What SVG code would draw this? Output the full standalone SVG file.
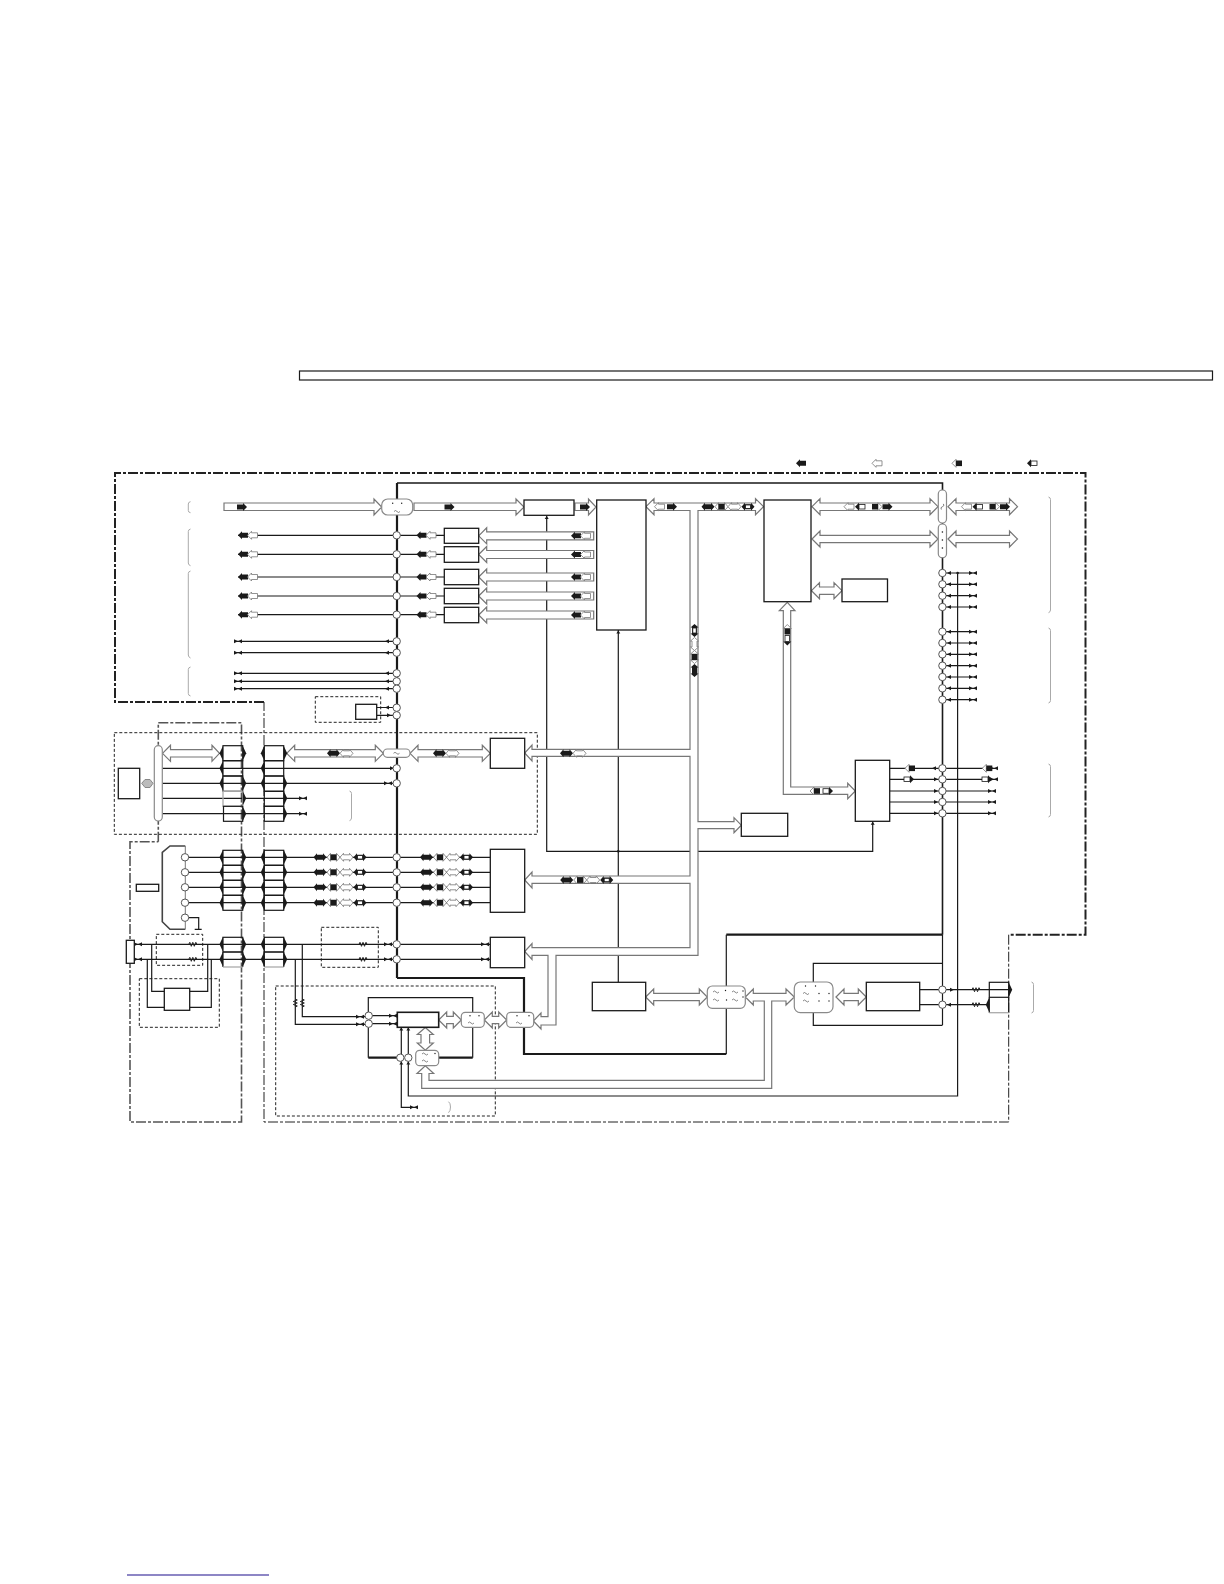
<svg xmlns="http://www.w3.org/2000/svg" xmlns:xlink="http://www.w3.org/1999/xlink" width="1224" height="1584" viewBox="0 0 1224 1584">
<style>
.bg{fill:#fff}
.l{fill:none;stroke:#1a1a1a;stroke-width:1.2}
.t{fill:none;stroke:#1a1a1a;stroke-width:2.2}
.n{fill:#fff;stroke:#1a1a1a;stroke-width:1.3}
.s{fill:none;stroke:#1a1a1a;stroke-width:1.2}
.sg{fill:none;stroke:#aaa;stroke-width:1.3}
.ar{fill:#fff;stroke:#777;stroke-width:1.2}
.p{fill:#fff;stroke:#8a8a8a;stroke-width:1.2}
.c{fill:#fff;stroke:#555;stroke-width:1}
.b{fill:none;stroke:#aaa;stroke-width:1}
.dd{fill:none;stroke:#222;stroke-width:2;stroke-dasharray:10 2 3 2}
.dt{fill:none;stroke:#222;stroke-width:1;stroke-dasharray:10 2 3 2}
.dg{fill:none;stroke:#555;stroke-width:1.6;stroke-dasharray:10 2 3 2}
.d{fill:none;stroke:#222;stroke-width:1;stroke-dasharray:3 2}
.k{fill:#1a1a1a}
.h{fill:#fff;stroke:#777;stroke-width:.8}
.hk{fill:#fff;stroke:#1a1a1a;stroke-width:.8}
.tl{fill:none;stroke:#555;stroke-width:.7}
</style>
<defs>
<path id="bl" class="k" d="M-5,0 L-1,-4 V-2.5 H5 V2.5 H-1 V4Z"/>
<path id="br" class="k" d="M5,0 L1,-4 V-2.5 H-5 V2.5 H1 V4Z"/>
<path id="hl" class="h" d="M-5,0 L-1,-4 V-2.5 H5 V2.5 H-1 V4Z"/>
<path id="hr" class="h" d="M5,0 L1,-4 V-2.5 H-5 V2.5 H1 V4Z"/>
<path id="bd" class="k" d="M-6.5,0 L-3,-4 V-2.5 H3 V-4 L6.5,0 L3,4 V2.5 H-3 V4Z"/>
<path id="hd" class="h" d="M-6.5,0 L-3,-4 V-2.5 H3 V-4 L6.5,0 L3,4 V2.5 H-3 V4Z"/>
<g id="sq"><use href="#hd"/><rect class="k" x="-3.2" y="-2.8" width="6.4" height="5.6"/></g>
<g id="hb"><use href="#bd"/><rect class="hk" x="-2.5" y="-1.7" width="5" height="3.4"/></g>
<g id="ls"><path class="h" d="M-5,0 L-1,-4 V4Z"/><rect class="k" x="-1" y="-2.8" width="6" height="5.6"/></g>
<g id="lh"><path class="k" d="M-5,0 L-1,-4 V4Z"/><rect class="hk" x="-1" y="-2.3" width="6" height="4.6"/></g>
<g id="rs"><path class="h" d="M5,0 L1,-4 V4Z"/><rect class="k" x="-5" y="-2.8" width="6" height="5.6"/></g>
<g id="rh"><path class="k" d="M5,0 L1,-4 V4Z"/><rect class="hk" x="-5" y="-2.3" width="6" height="4.6"/></g>
<g id="m4"><use href="#bd" x="-20"/><use href="#sq" x="-6.5"/><use href="#hd" x="6.5"/><use href="#hb" x="20"/></g>
<g id="m5"><use href="#hl" x="-19"/><use href="#lh" x="-8"/><use href="#rs" x="9"/><use href="#br" x="19.5"/></g>
<g id="m2"><use href="#bd"/><use href="#hd" x="13"/></g>
<g id="bh"><use href="#bl"/><use href="#hl" x="9.5"/></g>
<path id="tl" class="k" d="M-3,0 L1,-2 V2Z"/>
<path id="tr" class="k" d="M3,0 L-1,-2 V2Z"/>
<path id="bf" class="k" d="M-4,-2 L0,0 L-4,2Z M4,-2 L0,0 L4,2Z"/>
<path id="tpr" class="k" d="M0,-7.5 L3.5,0 L0,7.5Z"/>
<path id="tpl" class="k" d="M0,-7.5 L-3.5,0 L0,7.5Z"/>
<path id="res" class="tl" d="M-4,0 L-3,-2 L-1.5,2 L0,-2 L1.5,2 L3,-2 L4,0" style="stroke:#222;stroke-width:1"/>
<path id="til" class="tl" d="M-3,0 q1.5,-2 3,0 t3,0"/>
</defs>

<rect class="bg" width="1224" height="1584"/>
<rect id="top-bar" x="299.5" y="371" width="913" height="9" fill="none" stroke="#1a1a1a" stroke-width="1.2"/>
<line id="bottom-rule" x1="127" y1="1575" x2="269" y2="1575" stroke="#1c0f8c" stroke-width="1.2"/>

<g id="legend">
<use href="#bl" x="801" y="463.3"/><use href="#hl" x="877" y="463.3"/><use href="#ls" x="957" y="463.3"/><use href="#lh" x="1032" y="463.3"/>
</g>

<g id="frames">
<path class="dd" d="M264,702 H115 V473 H1085.5 V934.7 H1008.7"/>
<path class="dt" d="M1008.7,934.7 V1122 H264 V702"/>
<path class="dg" d="M158.3,841.7 V722.7 H241.5 V1122 H130 V841.7 H158.3"/>
<rect class="d" x="114.3" y="732.7" width="423" height="101.6"/>
<rect class="d" x="315.3" y="696.7" width="65.4" height="25.6"/>
<rect class="d" x="156.3" y="934.3" width="46.4" height="31"/>
<rect class="d" x="321.3" y="927.3" width="57" height="40"/>
<rect class="d" x="139.3" y="978.7" width="80" height="48.6"/>
<rect class="d" x="275.7" y="986" width="219.6" height="130"/>
</g>

<g id="connectors">
<path class="t" d="M397,978 V483"/>
<path class="l" style="stroke-width:1.6" d="M397,483 H942.5 V934.7"/>
<path class="t" d="M942.5,934.7 H726.3"/>
<path class="t" d="M397,978 H524 V1054 H726.3"/>
<path class="l" d="M726.3,934.7 V1054"/>
<path class="l" d="M546.7,515.5 V851.3 H872.7 V821.3"/>
<path class="l" d="M618.3,630 V982.3"/>
<path class="l" d="M957.6,572 V1096 H408.3 V1027"/>
<path class="l" d="M401.3,1027 V1107.3 H416.7"/>
<path class="l" d="M942.5,934.7 V1025"/>
<circle class="k" cx="618.3" cy="851.3" r="1.3"/><circle class="k" cx="957.6" cy="573" r="1.3"/>

<path class="l" d="M238,535.3 H444.3 M238,554.3 H444.3 M238,577 H444.3 M238,596 H444.3 M238,614.7 H444.3"/>
<path class="l" d="M236,641.3 H393 M236,652.7 H393 M236,673.3 H393 M236,681.3 H393 M236,688.7 H393"/>
<path class="l" d="M376.7,707.5 H393 M376.7,715.3 H393"/>
<path class="l" d="M162.3,768.3 H393 M162.3,783.3 H393 M162.3,798.3 H306.7 M162.3,813.7 H306.7"/>
<path class="l" d="M188,857.3 H490.3 M188,872.3 H490.3 M188,887.3 H490.3 M188,902.7 H490.3"/>
<path class="l" d="M188.5,917.7 H198.7 V929.3 M194.7,929.3 H201.7"/>
<path class="l" d="M134.3,944.3 H490.3 M134.3,959.3 H490.3"/>
<path class="l" d="M151.7,944.3 V991.3 H164.3 M147.3,959.3 V1007.3 H164.3 M189.7,991.3 H207.7 V944.3 M189.7,1007.3 H211.3 V959.3"/>
<path class="l" d="M302.3,944.3 V1016.7 H365 M295.3,959.3 V1024.3 H365"/>
<path class="l" d="M372,1015.7 H397.3 M372,1023.7 H397.3"/>
<path class="l" d="M368.3,1012 V997.7 H472.7 V1012 M368.3,1027 V1057.7 M472.7,1027 V1057.7"/>
<path class="t" d="M368.3,1057.7 H397 M438.7,1057.7 H472.7"/>
<path class="l" d="M813.3,982 V963.3 H942.5 M813.3,1012.7 V1025.3 H942.5"/>
<path class="l" d="M919.7,989.7 H1008 M919.7,1004.7 H989.3"/>

<path class="l" d="M946,573 H977 M946,584.3 H977 M946,595.7 H977 M946,607 H977 M946,631.7 H977 M946,643 H977 M946,654.3 H977 M946,665.7 H977 M946,677 H977 M946,688.3 H977 M946,699.7 H977"/>
<path class="l" d="M889.7,768.3 H996 M889.7,779.3 H996 M889.7,791 H996 M889.7,802 H996 M889.7,813.3 H996"/>

<path class="ar" d="M224,503 H374 V499 L381.7,507 L374,515 V510.5 H224Z"/>
<path class="ar" d="M414,503 H516 V499 L524,507 L516,515 V510.5 H414Z"/>
<path class="ar" d="M575,503 H588.5 V499 L596,507 L588.5,515 V510.5 H575Z"/>
<path class="ar" d="M478.7,535.8 L486.7,527.8 V531.8 H593.7 V539.8 H486.7 V543.8Z"/>
<path class="ar" d="M478.7,554.5 L486.7,546.5 V550.5 H593.7 V558.5 H486.7 V562.5Z"/>
<path class="ar" d="M478.7,577 L486.7,569 V573 H593.7 V581 H486.7 V585Z"/>
<path class="ar" d="M478.7,596 L486.7,588 V592 H593.7 V600 H486.7 V604Z"/>
<path class="ar" d="M478.7,615 L486.7,607 V611 H593.7 V619 H486.7 V623Z"/>

<path class="ar" d="M646,506.7 L654,498.7 V503 H755.5 V498.7 L763.5,506.7 L755.5,514.7 V510.5 H698 V821.7 H734 V817.7 L741.3,825.2 L734,832.7 V828.7 H698 V955.3 H556 V1025 H541 V1029 L533.3,1021 L541,1013 V1016.7 H548 V955.3 H532 V959.5 L524.7,951.5 L532,943.5 V947.7 H690 V883.3 H532 V888 L524.7,880 L532,872 V876 H690 V756.3 H532 V761 L524.7,753 L532,745 V749.3 H690 V510.5 H654 V514.7Z"/>
<path class="ar" d="M745.3,997 L753.3,989 V993.3 H786 V989 L794.3,997 L786,1005 V1001 H771.7 V1088.3 H421.7 V1073.5 H417 L425.3,1065.7 L433.7,1073.5 H429 V1080.3 H764.3 V1001 H753.3 V1005Z"/>
<path class="ar" d="M787.3,602.3 L795,610.7 H790.7 V787 H847.7 V783.3 L855.3,791 L847.7,798.7 V794.3 H783.3 V610.7 H779.3Z"/>
<path class="ar" d="M812,506.7 L820,498.7 V503 H930 V498.7 L938,506.7 L930,514.7 V510.5 H820 V514.7Z"/>
<path class="ar" d="M812,539 L820,531 V535.3 H930 V531 L938,539 L930,547 V542.7 H820 V547Z"/>
<path class="ar" d="M948,506.7 L956,498.7 V503 H1009.5 V498.7 L1017.5,506.7 L1009.5,514.7 V510.5 H956 V514.7Z"/>
<path class="ar" d="M948,539 L956,531 V535.3 H1009.5 V531 L1017.5,539 L1009.5,547 V542.7 H956 V547Z"/>
<path class="ar" d="M811.5,590.7 L819.5,582.7 V587 H834 V582.7 L842,590.7 L834,598.7 V594.4 H819.5 V598.7Z"/>
<path class="ar" d="M162.5,753.3 L170.5,745.3 V749.6 H212 V745.3 L219.5,753.3 L212,761.3 V757 H170.5 V761.3Z"/>
<path class="ar" d="M286.7,753.3 L294.7,745.3 V749.6 H375.3 V745.3 L383.3,753.3 L375.3,761.3 V757 H294.7 V761.3Z"/>
<path class="ar" d="M410,753.3 L418,745.3 V749.6 H482.3 V745.3 L490.3,753.3 L482.3,761.3 V757 H418 V761.3Z"/>
<path class="ar" d="M645.7,997 L653.7,989 V993.3 H699.3 V989 L707.3,997 L699.3,1005 V1000.7 H653.7 V1005Z"/>
<path class="ar" d="M836,997 L844,989 V993.3 H858.3 V989 L866.3,997 L858.3,1005 V1000.7 H844 V1005Z"/>
<path class="ar" d="M438.7,1020 L446.7,1012 V1016.3 H453.3 V1012 L461.3,1020 L453.3,1028 V1023.7 H446.7 V1028Z"/>
<path class="ar" d="M484.3,1020 L492.3,1012 V1016.3 H498.7 V1012 L506.7,1020 L498.7,1028 V1023.7 H492.3 V1028Z"/>
<path class="ar" d="M425.3,1027.5 L433.3,1034.5 H429.6 V1043 H433.3 L425.3,1050.3 L417.3,1043 H421 V1034.5 H417.3Z"/>
</g>

<g id="marks">
<use href="#br" x="242" y="507"/><use href="#br" x="449.5" y="507"/><use href="#br" x="585" y="507"/>
<use href="#bh" x="243" y="535.3"/><use href="#bh" x="243" y="554.3"/><use href="#bh" x="243" y="577"/><use href="#bh" x="243" y="596"/><use href="#bh" x="243" y="614.7"/>
<use href="#bh" x="421.5" y="535.3"/><use href="#bh" x="421.5" y="554.3"/><use href="#bh" x="421.5" y="577"/><use href="#bh" x="421.5" y="596"/><use href="#bh" x="421.5" y="614.7"/>
<use href="#bh" x="576" y="535.8"/><use href="#bh" x="576" y="554.5"/><use href="#bh" x="576" y="577"/><use href="#bh" x="576" y="596"/><use href="#bh" x="576" y="615"/>
<use href="#hl" x="659.5" y="506.7"/><use href="#br" x="672" y="506.7"/>
<use href="#m4" x="728" y="506.7"/>
<use href="#m5" x="868" y="506.7"/><use href="#m5" x="985.5" y="506.7"/>
<g transform="translate(694.5,650.5) rotate(-90)"><use href="#m4"/></g>
<g transform="translate(787.3,629.5) rotate(90)"><use href="#ls"/></g>
<g transform="translate(787.3,640.5) rotate(90)"><use href="#rh"/></g>
<use href="#ls" x="815" y="791"/><use href="#rh" x="828" y="791"/>
<use href="#ls" x="910" y="768.3"/><use href="#rh" x="909" y="779.3"/>
<use href="#ls" x="987.3" y="768.3"/><use href="#rh" x="987" y="779.3"/>
<use href="#m2" x="333.5" y="753.3"/><use href="#m2" x="439.5" y="753.3"/><use href="#m2" x="566.5" y="753.3"/>
<use href="#m4" x="340" y="857.3"/><use href="#m4" x="340" y="872.3"/><use href="#m4" x="340" y="887.3"/><use href="#m4" x="340" y="902.7"/>
<use href="#m4" x="446.5" y="857.3"/><use href="#m4" x="446.5" y="872.3"/><use href="#m4" x="446.5" y="887.3"/><use href="#m4" x="446.5" y="902.7"/>
<use href="#m4" x="586.7" y="880"/>

<use href="#bf" x="238" y="641.3"/><use href="#bf" x="238" y="652.7"/><use href="#bf" x="238" y="673.3"/><use href="#bf" x="238" y="681.3"/><use href="#bf" x="238" y="688.7"/>
<use href="#tl" x="388" y="641.3"/><use href="#tl" x="388" y="652.7"/><use href="#tl" x="388" y="673.3"/><use href="#tl" x="388" y="681.3"/><use href="#tl" x="388" y="688.7"/>
<use href="#tl" x="388" y="707.5"/><use href="#tr" x="388" y="715.3"/>
<use href="#tr" x="391" y="768.3"/><use href="#bf" x="388" y="783.3"/>
<use href="#bf" x="303" y="798.3"/><use href="#bf" x="303" y="813.7"/>
<use href="#bf" x="138" y="944.3"/><use href="#bf" x="138" y="959.3"/><use href="#bf" x="388" y="944.3"/><use href="#bf" x="388" y="959.3"/><use href="#bf" x="485" y="944.3"/><use href="#bf" x="485" y="959.3"/>
<use href="#bf" x="360" y="1016.7"/><use href="#bf" x="360" y="1024.3"/><use href="#bf" x="393" y="1015.7"/><use href="#bf" x="393" y="1023.7"/><use href="#bf" x="414" y="1107.3"/>
<path class="k" d="M401.3,1027.5 l-2,3 h4Z M408.3,1027.5 l-2,3 h4Z M401.3,1061.5 l-2,3 h4Z M408.3,1061.5 l-2,3 h4Z M546.7,516 l-2,3 h4Z M618.3,630.5 l-2,3 h4Z M872.7,821.8 l-2,3 h4Z"/>

<g id="right-ticks">
<use href="#tl" x="950" y="573"/><use href="#bf" x="973" y="573"/><use href="#tl" x="950" y="584.3"/><use href="#bf" x="973" y="584.3"/><use href="#tl" x="950" y="595.7"/><use href="#bf" x="973" y="595.7"/><use href="#tl" x="950" y="607"/><use href="#bf" x="973" y="607"/>
<use href="#tl" x="950" y="631.7"/><use href="#bf" x="973" y="631.7"/><use href="#tl" x="950" y="643"/><use href="#bf" x="973" y="643"/><use href="#tl" x="950" y="654.3"/><use href="#bf" x="973" y="654.3"/><use href="#tl" x="950" y="665.7"/><use href="#bf" x="973" y="665.7"/><use href="#tl" x="950" y="677"/><use href="#bf" x="973" y="677"/><use href="#tl" x="950" y="688.3"/><use href="#bf" x="973" y="688.3"/><use href="#tl" x="950" y="699.7"/><use href="#bf" x="973" y="699.7"/>
<use href="#tl" x="935" y="768.3"/><use href="#tr" x="935" y="779.3"/><use href="#tr" x="935" y="791"/><use href="#tr" x="935" y="802"/><use href="#tr" x="935" y="813.3"/>
<use href="#bf" x="994" y="768.3"/><use href="#bf" x="994" y="779.3"/><use href="#bf" x="992" y="791"/><use href="#bf" x="992" y="802"/><use href="#bf" x="992" y="813.3"/>
<use href="#tr" x="951" y="989.7"/><use href="#tl" x="950" y="1004.7"/>
</g>
<use href="#res" x="192.8" y="944.3"/><use href="#res" x="192.8" y="959.3"/><use href="#res" x="363" y="944.3"/><use href="#res" x="363" y="959.3"/>
<use href="#res" x="976" y="989.7"/><use href="#res" x="976" y="1004.7"/>
<g transform="translate(295.3,1003) rotate(90)"><use href="#res"/></g><g transform="translate(302.3,1003) rotate(90)"><use href="#res"/></g>
</g>

<g id="braces">
<path class="b" d="M190.5,501.7 Q188.3,502 188.3,504 V510.5 Q188.3,512.5 190.5,512.7"/>
<path class="b" d="M190.5,529 Q188.3,529.5 188.3,531.5 V563 Q188.3,565 190.5,565.7"/>
<path class="b" d="M190.5,571 Q188.3,571.5 188.3,573.5 V655 Q188.3,657 190.5,658"/>
<path class="b" d="M190.5,667 Q188.3,667.5 188.3,669.5 V693.5 Q188.3,695.5 190.5,696"/>
<path class="b" d="M1048.5,497 Q1050.5,497.5 1050.5,499.5 V610 Q1050.5,612 1048.5,612.7"/>
<path class="b" d="M1048.5,628 Q1050.5,628.5 1050.5,630.5 V700.5 Q1050.5,702.5 1048.5,703"/>
<path class="b" d="M1048.5,764 Q1050.5,764.5 1050.5,766.5 V814.5 Q1050.5,816.5 1048.5,817"/>
<path class="b" d="M1031.5,982 Q1033.5,982.5 1033.5,984.5 V1010.5 Q1033.5,1012.5 1031.5,1013"/>
<path class="b" d="M349.5,791 Q351.5,791.5 351.5,793.5 V818 Q351.5,820 349.5,820.7"/>
<path class="b" d="M448.5,1101.7 Q450.5,1103 450.5,1107 Q450.5,1111 448.5,1112.7"/>
</g>

<g id="box-a"><rect class="n" x="596.7" y="500" width="49.3" height="130"/></g>
<g id="box-b"><rect class="n" x="764" y="500" width="47" height="101.7"/></g>
<g id="box-c"><rect class="n" x="842" y="579" width="45.5" height="22.7"/></g>
<g id="box-d"><rect class="n" x="741.3" y="813.3" width="46.4" height="23"/></g>
<g id="box-e"><rect class="n" x="524" y="500" width="50" height="15.3"/></g>
<g id="box-f1"><rect class="n" x="444.3" y="528.3" width="34.4" height="15"/></g>
<g id="box-f2"><rect class="n" x="444.3" y="546.7" width="34.4" height="15.6"/></g>
<g id="box-f3"><rect class="n" x="444.3" y="569.3" width="34.4" height="15.4"/></g>
<g id="box-f4"><rect class="n" x="444.3" y="588.3" width="34.4" height="15.4"/></g>
<g id="box-f5"><rect class="n" x="444.3" y="607.3" width="34.4" height="15.4"/></g>
<g id="box-g"><rect class="n" x="355.7" y="704.3" width="21" height="15"/></g>
<g id="box-h"><rect class="n" x="490.3" y="738.3" width="34.4" height="30"/></g>
<g id="box-i"><rect class="n" x="490.3" y="849.3" width="34.4" height="63"/></g>
<g id="box-j"><rect class="n" x="490.3" y="937.3" width="34.4" height="30.4"/></g>
<g id="box-k"><rect class="n" x="855.3" y="760.3" width="34.4" height="61"/></g>
<g id="box-l"><rect class="n" x="592.3" y="982.3" width="53.4" height="28.4"/></g>
<g id="box-m"><rect class="n" x="866.3" y="982.3" width="53.4" height="28.4"/></g>
<g id="box-n"><rect class="n" x="397.3" y="1012.3" width="41.4" height="15" style="stroke-width:1.6"/></g>
<g id="box-o"><rect class="n" x="118.3" y="768.3" width="21.4" height="30.4"/></g>
<g id="box-p"><rect class="n" x="136.3" y="884.3" width="22.4" height="7"/></g>
<g id="box-q"><rect class="n" x="126.3" y="940.3" width="8" height="23"/></g>
<g id="box-r"><rect class="n" x="164.3" y="988.3" width="25.4" height="22"/></g>

<g id="gray-link"><path d="M141.7,783.3 L145,779.5 H150 L153,783.3 L150,787.5 H145Z" fill="#bbb" stroke="#888" stroke-width="1"/></g>

<g id="gate"><path d="M185.3,846 H170 L162.3,852.3 V921.7 L170,929.3 H185.3" fill="none" stroke="#444" stroke-width="1.6"/><path d="M185.3,846 V929.3" fill="none" stroke="#777" stroke-width="1"/></g>

<g id="pills">
<g id="pill-1"><rect class="p" x="381.7" y="499" width="31" height="16" rx="6"/><circle class="k" cx="392.7" cy="503.3" r=".7"/><circle class="k" cx="401.7" cy="503.3" r=".7"/><use href="#til" x="397" y="511.5"/></g>
<g id="pill-2"><rect class="p" x="154.3" y="745.7" width="8" height="75.3" rx="4"/></g>
<g id="pill-3"><rect class="p" x="383.3" y="749" width="26.7" height="8.3" rx="4"/><use href="#til" x="396.5" y="753.3"/></g>
<g id="pill-x"><rect class="p" x="938.3" y="490" width="8.2" height="33" rx="4"/><use href="#til" transform="translate(942.4,506.7) rotate(-70)"/></g>
<g id="pill-y"><rect class="p" x="938.3" y="524" width="8.2" height="33.7" rx="4"/><circle class="k" cx="942.4" cy="532" r=".8"/><circle class="k" cx="942.4" cy="540" r=".8"/><circle class="k" cx="942.4" cy="548" r=".8"/></g>
<g id="pill-4"><rect class="p" x="707.3" y="986" width="38" height="22.3" rx="5"/><use href="#til" x="716" y="992"/><use href="#til" x="735" y="992"/><use href="#til" x="716" y="1000"/><use href="#til" x="735" y="1000"/><circle class="k" cx="725.5" cy="990.5" r=".7"/><circle class="k" cx="726.5" cy="1000" r=".7"/><circle class="k" cx="743" cy="991" r=".7"/><circle class="k" cx="743" cy="997" r=".7"/></g>
<g id="pill-5"><rect class="p" x="794.3" y="982" width="38.7" height="30.7" rx="6"/><circle class="k" cx="805.5" cy="986" r=".7"/><circle class="k" cx="815.5" cy="986" r=".7"/><use href="#til" x="806" y="993.5"/><circle class="k" cx="819" cy="993.5" r=".7"/><circle class="k" cx="829" cy="993.5" r=".7"/><use href="#til" x="806" y="1001"/><circle class="k" cx="819" cy="1001" r=".7"/><circle class="k" cx="829" cy="1001" r=".7"/></g>
<g id="pill-6"><rect class="p" x="461.3" y="1012.3" width="23" height="15" rx="4"/><circle class="k" cx="470" cy="1015.8" r=".7"/><circle class="k" cx="479" cy="1015.8" r=".7"/><use href="#til" x="471" y="1023"/></g>
<g id="pill-7"><rect class="p" x="506.7" y="1012.3" width="27" height="15" rx="4"/><circle class="k" cx="517" cy="1015.8" r=".7"/><circle class="k" cx="529" cy="1015.8" r=".7"/><use href="#til" x="519" y="1023"/></g>
<g id="pill-8"><rect class="p" x="415.7" y="1050.3" width="23" height="15.4" rx="4"/><circle class="k" cx="435" cy="1053.5" r=".7"/><use href="#til" x="425" y="1054"/><use href="#til" x="425" y="1061"/></g>
</g>

<g id="stack-1">
<rect class="s" x="223" y="745.7" width="19.7" height="15"/><rect class="s" x="223" y="760.7" width="19.7" height="15.3"/><rect class="s" x="223" y="776" width="19.7" height="15.3"/><rect class="sg" x="223" y="791.3" width="19.7" height="15"/><rect class="s" x="223.5" y="806.3" width="19.2" height="15"/>
<use href="#tpl" x="223" y="753.3"/><use href="#tpr" x="242.7" y="753.3"/><use href="#tpl" x="223" y="768.3"/><use href="#tpl" x="223" y="783.3"/><use href="#tpr" x="242.7" y="783.3"/><use href="#tpr" x="242.7" y="798.3"/><use href="#tpr" x="242.7" y="813.7"/>
</g>
<g id="stack-2">
<rect class="s" x="264.3" y="745.7" width="19.4" height="15"/><rect class="s" x="264.3" y="760.7" width="19.4" height="15.3"/><rect class="s" x="264.3" y="776" width="19.4" height="15.3"/><rect class="s" x="264.3" y="791.3" width="19.4" height="15"/><rect class="s" x="264.3" y="806.3" width="19.4" height="15"/>
<use href="#tpl" x="264.3" y="753.3"/><use href="#tpr" x="283.7" y="753.3"/><use href="#tpl" x="264.3" y="768.3"/><use href="#tpl" x="264.3" y="783.3"/><use href="#tpr" x="283.7" y="783.3"/><use href="#tpr" x="283.7" y="798.3"/><use href="#tpr" x="283.7" y="813.7"/>
</g>
<g id="stack-3">
<rect class="s" x="223" y="850.3" width="19.7" height="15"/><rect class="s" x="223" y="865.3" width="19.7" height="15"/><rect class="s" x="223" y="880.3" width="19.7" height="15"/><rect class="s" x="223" y="895.3" width="19.7" height="15"/>
<use href="#tpl" x="223" y="857.3"/><use href="#tpr" x="242.7" y="857.3"/><use href="#tpl" x="223" y="872.3"/><use href="#tpr" x="242.7" y="872.3"/><use href="#tpl" x="223" y="887.3"/><use href="#tpr" x="242.7" y="887.3"/><use href="#tpl" x="223" y="902.7"/><use href="#tpr" x="242.7" y="902.7"/>
</g>
<g id="stack-4">
<rect class="s" x="264.3" y="850.3" width="19.4" height="15"/><rect class="s" x="264.3" y="865.3" width="19.4" height="15"/><rect class="s" x="264.3" y="880.3" width="19.4" height="15"/><rect class="s" x="264.3" y="895.3" width="19.4" height="15"/>
<use href="#tpl" x="264.3" y="857.3"/><use href="#tpr" x="283.7" y="857.3"/><use href="#tpl" x="264.3" y="872.3"/><use href="#tpr" x="283.7" y="872.3"/><use href="#tpl" x="264.3" y="887.3"/><use href="#tpr" x="283.7" y="887.3"/><use href="#tpl" x="264.3" y="902.7"/><use href="#tpr" x="283.7" y="902.7"/>
</g>
<g id="stack-5">
<rect class="s" x="223" y="937.3" width="19.7" height="14.7"/><path class="s" d="M223,952 V967 M242.7,952 V967 M223,952 H242.7"/><path class="sg" d="M223,967 H242.7"/>
<use href="#tpl" x="223" y="944.3"/><use href="#tpr" x="242.7" y="944.3"/><use href="#tpl" x="223" y="959.3"/><use href="#tpr" x="242.7" y="959.3"/>
</g>
<g id="stack-6">
<rect class="s" x="264.3" y="937.3" width="19.4" height="14.7"/><path class="s" d="M264.3,952 V967 M283.7,952 V967 M264.3,952 H283.7"/><path class="sg" d="M264.3,967 H283.7"/>
<use href="#tpl" x="264.3" y="944.3"/><use href="#tpr" x="283.7" y="944.3"/><use href="#tpl" x="264.3" y="959.3"/><use href="#tpr" x="283.7" y="959.3"/>
</g>
<g id="stack-7">
<rect class="s" x="989.3" y="982.3" width="19.4" height="15"/><path class="s" d="M989.3,997.3 V1012.7 M1008.7,997.3 V1012.7"/><path class="sg" d="M989.3,1012.7 H1008.7"/>
<use href="#tpr" x="1008.7" y="989.7"/><use href="#tpl" x="989.3" y="1004.7"/>
</g>

<g id="terminals">
<circle class="c" cx="396.7" cy="535.3" r="3.7"/><circle class="c" cx="396.7" cy="554.3" r="3.7"/><circle class="c" cx="396.7" cy="577" r="3.7"/><circle class="c" cx="396.7" cy="596" r="3.7"/><circle class="c" cx="396.7" cy="614.7" r="3.7"/>
<circle class="c" cx="396.7" cy="641.3" r="3.7"/><circle class="c" cx="396.7" cy="652.7" r="3.7"/><circle class="c" cx="396.7" cy="673.3" r="3.7"/><circle class="c" cx="396.7" cy="681.3" r="3.7"/><circle class="c" cx="396.7" cy="688.7" r="3.7"/>
<circle class="c" cx="396.7" cy="707.7" r="3.7"/><circle class="c" cx="396.7" cy="715.3" r="3.7"/><circle class="c" cx="396.7" cy="768.3" r="3.7"/><circle class="c" cx="396.7" cy="783.3" r="3.7"/>
<circle class="c" cx="396.7" cy="857.3" r="3.7"/><circle class="c" cx="396.7" cy="872.3" r="3.7"/><circle class="c" cx="396.7" cy="887.3" r="3.7"/><circle class="c" cx="396.7" cy="902.7" r="3.7"/>
<circle class="c" cx="396.7" cy="944.3" r="3.7"/><circle class="c" cx="396.7" cy="959.3" r="3.7"/>
<circle class="c" cx="185" cy="857.3" r="3.7"/><circle class="c" cx="185" cy="872.3" r="3.7"/><circle class="c" cx="185" cy="887.3" r="3.7"/><circle class="c" cx="185" cy="902.7" r="3.7"/><circle class="c" cx="185" cy="917.7" r="3.7"/>
<circle class="c" cx="368.7" cy="1015.7" r="3.7"/><circle class="c" cx="368.7" cy="1023.7" r="3.7"/><circle class="c" cx="400.3" cy="1057.7" r="3.7"/><circle class="c" cx="408.3" cy="1057.7" r="3.7"/>
<circle class="c" cx="942.4" cy="573" r="3.7"/><circle class="c" cx="942.4" cy="584.3" r="3.7"/><circle class="c" cx="942.4" cy="595.7" r="3.7"/><circle class="c" cx="942.4" cy="607" r="3.7"/>
<circle class="c" cx="942.4" cy="631.7" r="3.7"/><circle class="c" cx="942.4" cy="643" r="3.7"/><circle class="c" cx="942.4" cy="654.3" r="3.7"/><circle class="c" cx="942.4" cy="665.7" r="3.7"/><circle class="c" cx="942.4" cy="677" r="3.7"/><circle class="c" cx="942.4" cy="688.3" r="3.7"/><circle class="c" cx="942.4" cy="699.7" r="3.7"/>
<circle class="c" cx="942.4" cy="768.3" r="3.7"/><circle class="c" cx="942.4" cy="779.3" r="3.7"/><circle class="c" cx="942.4" cy="791" r="3.7"/><circle class="c" cx="942.4" cy="802" r="3.7"/><circle class="c" cx="942.4" cy="813.3" r="3.7"/>
<circle class="c" cx="942.4" cy="989.7" r="3.7"/><circle class="c" cx="942.4" cy="1004.7" r="3.7"/>
</g>
</svg>
